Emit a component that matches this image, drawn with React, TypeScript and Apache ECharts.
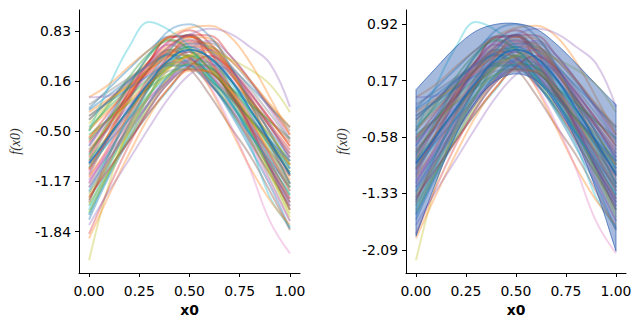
import React, { useEffect, useRef } from "react";
import * as echarts from "echarts";

// x grid of every sampled curve
const xs = [0, 0.1, 0.2, 0.3, 0.4, 0.5, 0.6, 0.7, 0.8, 0.9, 1.0];

// tick labels
const xTicks = [0, 0.25, 0.5, 0.75, 1.0];
const yTicksLeft = [0.83, 0.16, -0.5, -1.17, -1.84];
const yTicksRight = [0.92, 0.17, -0.58, -1.33, -2.09];

const s01 = [-0.20, 0.07, 0.33, 0.58, 0.76, 0.77, 0.59, 0.36, 0.10, -0.18, -0.45];
const s02 = [-0.35, -0.09, 0.18, 0.43, 0.64, 0.75, 0.61, 0.33, 0.00, -0.35, -0.70];
const s03 = [-0.50, -0.14, 0.22, 0.53, 0.70, 0.57, 0.32, 0.02, -0.32, -0.66, -1.00];
const s04 = [-0.65, -0.33, -0.01, 0.31, 0.58, 0.78, 0.77, 0.51, 0.18, -0.18, -0.55];
const s05 = [-0.80, -0.43, -0.05, 0.29, 0.55, 0.55, 0.30, -0.03, -0.42, -0.81, -1.20];
const s06 = [-0.95, -0.59, -0.23, 0.12, 0.40, 0.55, 0.39, 0.09, -0.28, -0.67, -1.05];
const s07 = [-1.10, -0.75, -0.40, -0.06, 0.23, 0.46, 0.45, 0.21, -0.11, -0.45, -0.80];
const s08 = [-1.25, -0.80, -0.34, 0.07, 0.39, 0.40, 0.14, -0.20, -0.59, -1.00, -1.40];
const s09 = [-1.40, -0.95, -0.52, -0.12, 0.22, 0.40, 0.20, -0.18, -0.62, -1.08, -1.60];
const s10 = [-1.55, -1.02, -0.62, -0.26, 0.06, 0.33, 0.32, 0.01, -0.40, -0.85, -1.30];
const s11 = [-1.68, -1.10, -0.62, -0.20, 0.15, 0.35, 0.14, -0.25, -0.72, -1.22, -1.80];
const s12 = [-0.30, -0.09, 0.11, 0.32, 0.49, 0.62, 0.59, 0.29, -0.10, -0.52, -0.95];
const s13 = [-0.45, -0.18, 0.08, 0.33, 0.51, 0.50, 0.23, -0.11, -0.52, -0.94, -1.35];
const s14 = [-0.60, -0.25, 0.09, 0.42, 0.70, 0.84, 0.67, 0.35, -0.04, -0.44, -0.85];
const s15 = [-0.75, -0.46, -0.17, 0.12, 0.38, 0.59, 0.70, 0.51, 0.18, -0.21, -0.60];
const s16 = [-0.90, -0.44, 0.03, 0.43, 0.65, 0.49, 0.17, -0.21, -0.64, -1.07, -1.50];
const s17 = [-1.05, -0.57, -0.09, 0.35, 0.68, 0.70, 0.44, 0.10, -0.29, -0.70, -1.10];
const s18 = [-1.20, -0.76, -0.33, 0.09, 0.44, 0.62, 0.39, -0.05, -0.59, -1.14, -1.70];
const s19 = [-1.35, -0.91, -0.47, -0.03, 0.34, 0.63, 0.62, 0.32, -0.08, -0.52, -0.95];
const s20 = [-1.50, -0.96, -0.42, 0.07, 0.45, 0.47, 0.23, -0.10, -0.48, -0.86, -1.25];
const s21 = [-1.62, -1.05, -0.58, -0.12, 0.25, 0.45, 0.26, -0.10, -0.54, -0.99, -1.45];
const s22 = [-0.25, -0.07, 0.10, 0.27, 0.41, 0.48, 0.32, 0.01, -0.37, -0.76, -1.15];
const s23 = [-0.55, -0.34, -0.13, 0.08, 0.26, 0.39, 0.35, -0.02, -0.50, -1.02, -1.55];
const s24 = [-0.85, -0.41, 0.03, 0.43, 0.74, 0.76, 0.54, 0.26, -0.07, -0.41, -0.75];
const s25 = [-1.15, -0.80, -0.46, -0.11, 0.19, 0.45, 0.58, 0.35, -0.05, -0.53, -1.00];
const s26 = [-1.45, -0.82, -0.26, 0.22, 0.50, 0.33, -0.02, -0.43, -0.82, -1.30, -1.82];
const s27 = [-0.70, -0.37, -0.05, 0.27, 0.52, 0.66, 0.46, 0.09, -0.36, -0.83, -1.30];
const s28 = [-1.00, -0.63, -0.25, 0.12, 0.43, 0.67, 0.67, 0.45, 0.15, -0.17, -0.50];
const s29 = [-0.40, -0.13, 0.14, 0.39, 0.58, 0.59, 0.41, 0.18, -0.10, -0.37, -0.65];
const s30 = [-1.30, -0.80, -0.30, 0.18, 0.57, 0.78, 0.58, 0.21, -0.25, -0.72, -1.20];
const s31 = [-0.22, -0.02, 0.18, 0.38, 0.54, 0.62, 0.47, 0.19, -0.14, -0.50, -0.85];
const s32 = [-0.48, -0.22, 0.04, 0.30, 0.52, 0.69, 0.65, 0.31, -0.13, -0.61, -1.10];
const s33 = [-0.62, -0.33, -0.05, 0.21, 0.41, 0.42, 0.28, 0.08, -0.14, -0.37, -0.60];
const s34 = [-0.78, -0.41, -0.03, 0.33, 0.62, 0.78, 0.55, 0.10, -0.43, -0.99, -1.55];
const s35 = [-0.92, -0.63, -0.34, -0.06, 0.18, 0.36, 0.34, 0.03, -0.37, -0.81, -1.25];
const s36 = [-1.08, -0.58, -0.08, 0.34, 0.58, 0.47, 0.24, -0.03, -0.34, -0.64, -0.95];
const s37 = [-1.18, -0.73, -0.28, 0.16, 0.51, 0.70, 0.57, 0.31, 0.00, -0.33, -0.65];
const s38 = [-1.32, -0.87, -0.43, -0.02, 0.30, 0.32, 0.12, -0.15, -0.46, -0.78, -1.10];
const s39 = [-1.48, -1.04, -0.60, -0.16, 0.21, 0.50, 0.47, 0.06, -0.48, -1.06, -1.65];
const s40 = [-1.60, -1.07, -0.53, -0.02, 0.40, 0.62, 0.46, 0.15, -0.22, -0.61, -1.00];
const s41 = [-0.35, -0.09, 0.17, 0.39, 0.52, 0.39, 0.13, -0.19, -0.54, -0.90, -1.25];
const s42 = [-0.58, -0.34, -0.11, 0.13, 0.34, 0.51, 0.60, 0.45, 0.18, -0.14, -0.45];
const s43 = [-0.88, -0.55, -0.22, 0.10, 0.36, 0.50, 0.36, 0.09, -0.23, -0.56, -0.90];
const s44 = [-1.02, -0.53, -0.04, 0.41, 0.75, 0.76, 0.44, 0.03, -0.46, -0.96, -1.45];
const s45 = [-1.25, -0.87, -0.50, -0.13, 0.19, 0.43, 0.41, 0.04, -0.44, -0.97, -1.50];
const s46 = [-1.42, -0.91, -0.39, 0.10, 0.51, 0.72, 0.57, 0.28, -0.07, -0.44, -0.80];
const s47 = [-0.68, -0.31, 0.06, 0.39, 0.65, 0.64, 0.30, -0.14, -0.65, -1.18, -1.70];
const s48 = [-0.15, 0.03, 0.21, 0.39, 0.54, 0.66, 0.63, 0.39, 0.07, -0.27, -0.62];
const s49 = [-1.58, -1.05, -0.51, -0.03, 0.35, 0.38, 0.19, -0.06, -0.35, -0.65, -0.95];
const s50 = [-0.98, -0.65, -0.33, -0.01, 0.24, 0.38, 0.21, -0.12, -0.52, -0.93, -1.35];
const s51 = [-0.30, -0.11, 0.07, 0.24, 0.37, 0.37, 0.18, -0.06, -0.33, -0.62, -0.90];
const s52 = [-1.12, -0.70, -0.28, 0.13, 0.48, 0.75, 0.73, 0.35, -0.13, -0.67, -1.20];
const s53 = [-0.82, -0.36, 0.10, 0.50, 0.72, 0.59, 0.33, 0.01, -0.34, -0.70, -1.05];
const s54 = [-1.38, -1.00, -0.63, -0.25, 0.08, 0.36, 0.50, 0.33, 0.02, -0.34, -0.70];

// outlying samples
const o01 = [-0.50, 0.10, 0.62, 0.95, 0.84, 0.62, 0.22, -0.22, -0.68, -1.38, -1.78];
const o02 = [-0.70, -0.30, 0.12, 0.52, 0.84, 0.92, 0.76, 0.38, -0.12, -0.66, -1.20];
const o03 = [-0.05, 0.12, 0.36, 0.58, 0.76, 0.87, 0.90, 0.76, 0.42, -0.05, -0.55];
const o04 = [-1.00, -0.52, -0.02, 0.36, 0.55, 0.45, 0.08, -0.45, -0.98, -1.42, -1.75];
const o05 = [-0.05, -0.03, 0.15, 0.40, 0.62, 0.78, 0.86, 0.80, 0.62, 0.40, -0.18];
const o06 = [-0.75, -0.42, -0.10, 0.18, 0.38, 0.50, 0.55, 0.46, 0.32, 0.12, -0.25];
const o07 = [-2.22, -1.20, -0.45, 0.00, 0.25, 0.33, 0.28, 0.05, -0.32, -0.78, -1.25];
const o08 = [-1.87, -1.25, -0.68, -0.20, 0.15, 0.32, 0.28, 0.00, -0.42, -0.90, -1.40];
const o09 = [-1.93, -1.35, -0.80, -0.30, 0.08, 0.30, 0.30, 0.05, -0.35, -0.82, -1.30];
const o10 = [-1.75, -1.30, -0.88, -0.45, -0.05, 0.25, 0.38, 0.30, 0.02, -0.40, -0.90];
const o11 = [-1.20, -0.70, -0.20, 0.20, 0.42, 0.40, 0.10, -0.40, -1.00, -1.70, -2.13];

// mean curve and credible band (right panel)
const meanLine = [-0.93, -0.57, -0.20, 0.15, 0.45, 0.58, 0.48, 0.20, -0.20, -0.64, -1.08];
const bandUpper = [0.05, 0.34, 0.62, 0.83, 0.92, 0.93, 0.86, 0.66, 0.40, 0.12, -0.15];
const bandLower = [-1.90, -1.18, -0.55, -0.10, 0.17, 0.26, 0.17, -0.15, -0.62, -1.28, -2.10];

const samples = [
  s01, s02, s03, s04, s05, s06, s07, s08, s09, s10,
  s11, s12, s13, s14, s15, s16, s17, s18, s19, s20,
  s21, s22, s23, s24, s25, s26, s27, s28, s29, s30,
  s31, s32, s33, s34, s35, s36, s37, s38, s39, s40,
  s41, s42, s43, s44, s45, s46, s47, s48, s49, s50,
  s51, s52, s53, s54,
];
const outliers = [o01, o02, o03, o04, o05, o06, o07, o08, o09, o10, o11];

// styles
const tab10 = [
  "#1f77b4", "#ff7f0e", "#2ca02c", "#d62728", "#9467bd",
  "#8c564b", "#e377c2", "#7f7f7f", "#bcbd22", "#17becf",
];
const outlierColors = [
  "#17becf", "#1f77b4", "#ff7f0e", "#ff7f0e", "#9467bd", "#bcbd22",
  "#bcbd22", "#d62728", "#ff7f0e", "#9467bd", "#e377c2",
];

const pairs = (ys: number[]) => xs.map((x, i) => [x, ys[i]]);

export default function App() {
  const ref = useRef<HTMLDivElement>(null);
  useEffect(() => {
    const chart = echarts.init(ref.current!, null, { renderer: "svg" });
    const font = "DejaVu Sans";
    const mkX = (gi: number) => ({
      type: "value",
      gridIndex: gi,
      min: -0.05,
      max: 1.05,
      axisLine: { show: true, onZero: false, lineStyle: { color: "#000", width: 1 } },
      axisTick: { show: true, length: 4, lineStyle: { color: "#000", width: 1 }, customValues: xTicks },
      axisLabel: {
        customValues: xTicks,
        formatter: (v: number) => v.toFixed(2),
        color: "#000",
        fontSize: 13.9,
        fontFamily: font,
        margin: 11,
      },
      splitLine: { show: false },
      name: "x0",
      nameLocation: "middle",
      nameGap: 30,
      nameTextStyle: { fontWeight: "bold", fontSize: 13.9, color: "#000", fontFamily: font },
    });
    const mkY = (gi: number, ticks: number[]) => ({
      type: "value",
      gridIndex: gi,
      min: -2.39,
      max: 1.11,
      axisLine: { show: true, onZero: false, lineStyle: { color: "#000", width: 1 } },
      axisTick: { show: true, length: 4, lineStyle: { color: "#000", width: 1 }, customValues: ticks },
      axisLabel: {
        customValues: ticks,
        formatter: (v: number) => v.toFixed(2),
        color: "#000",
        fontSize: 13.9,
        fontFamily: font,
        margin: 8,
      },
      splitLine: { show: false },
      name: "f(x0)",
      nameLocation: "middle",
      nameGap: 57,
      nameTextStyle: {
        fontSize: 14,
        fontStyle: "italic",
        fontFamily: "Liberation Serif",
        color: "#333",
      },
    });

    const series: any[] = [];
    for (let p = 0; p < 2; p++) {
      samples.forEach((ys, i) => {
        series.push({
          type: "line",
          xAxisIndex: p,
          yAxisIndex: p,
          data: pairs(ys),
          smooth: 0.4,
          symbol: "none",
          silent: true,
          z: 2,
          lineStyle: { color: tab10[i % 10], width: 2, opacity: 0.4 },
        });
      });
      outliers.forEach((ys, i) => {
        series.push({
          type: "line",
          xAxisIndex: p,
          yAxisIndex: p,
          data: pairs(ys),
          smooth: 0.4,
          symbol: "none",
          silent: true,
          z: 2,
          lineStyle: { color: outlierColors[i], width: 2, opacity: 0.35 },
        });
      });
      series.push({
        type: "line",
        xAxisIndex: p,
        yAxisIndex: p,
        data: pairs(meanLine),
        smooth: 0.4,
        symbol: "none",
        silent: true,
        z: 3,
        lineStyle: { color: "#1f77b4", width: 2, opacity: 0.8 },
      });
    }

    // credible band on the right panel, built from bandUpper / bandLower
    series.push({
      type: "custom",
      xAxisIndex: 1,
      yAxisIndex: 1,
      data: [[xs[0], bandUpper[0]]],
      encode: { x: 0, y: 1 },
      silent: true,
      z: 4,
      renderItem: (_params: any, api: any) => {
        const up = xs.map((x, i) => api.coord([x, bandUpper[i]]));
        const lo = xs.map((x, i) => api.coord([x, bandLower[i]]));
        const n = up.length - 1;
        const pts = [up[0], ...up, up[n], lo[n], ...lo.slice().reverse(), lo[0]];
        return {
          type: "polygon",
          shape: { points: pts, smooth: 0.35 },
          style: {
            fill: "rgba(40,90,175,0.42)",
            stroke: "rgba(40,90,175,0.65)",
            lineWidth: 1,
          },
        };
      },
    });

    chart.setOption({
      animation: false,
      grid: [
        { left: 79, top: 10, width: 221, height: 263 },
        { left: 406, top: 10, width: 220, height: 263 },
      ],
      xAxis: [mkX(0), mkX(1)],
      yAxis: [mkY(0, yTicksLeft), mkY(1, yTicksRight)],
      series,
    });
    return () => chart.dispose();
  }, []);
  return (
    <div
      ref={ref}
      style={{ position: "fixed", left: 0, top: 0, width: 641, height: 326, background: "#fff" }}
    />
  );
}
